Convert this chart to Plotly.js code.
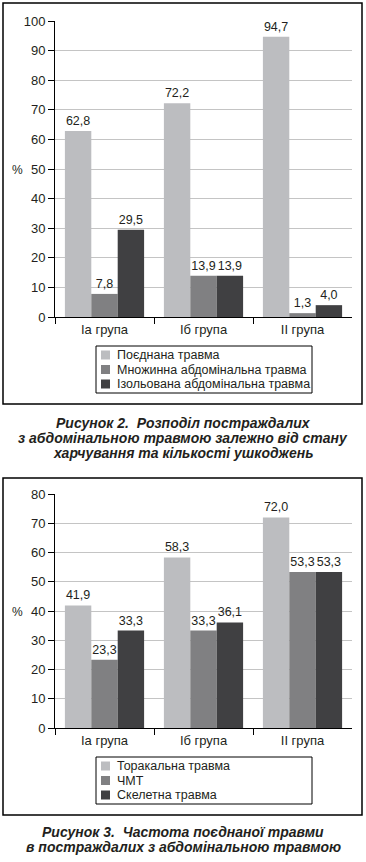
<!DOCTYPE html>
<html>
<head>
<meta charset="utf-8">
<script src="https://cdn.plot.ly/plotly-3.0.1.min.js"></script>
<style>html,body{margin:0;padding:0;background:#fff}#chart{width:366px;height:862px}</style>
</head>
<body>
<div id="chart"></div>
<script>
// ---- Data ----
const groups = ["Іа група", "Іб група", "ІІ група"];

const fig2Names = ["Поєднана травма", "Множинна абдомінальна травма", "Ізольована абдомінальна травма"];
const fig2Combined = [62.8, 72.2, 94.7];
const fig2Multiple = [7.8, 13.9, 1.3];
const fig2Isolated = [29.5, 13.9, 4.0];

const fig3Names = ["Торакальна травма", "ЧМТ", "Скелетна травма"];
const fig3Thoracic = [41.9, 58.3, 72.0];
const fig3TBI = [23.3, 33.3, 53.3];
const fig3Skeletal = [33.3, 36.1, 53.3];

const caption2 = ["Рисунок 2.\u00a0 Розподіл постраждалих", "з абдомінальною травмою залежно від стану", "харчування та кількості ушкоджень"];
const caption3 = ["Рисунок 3.\u00a0 Частота поєднаної травми", "в постраждалих з абдомінальною травмою"];

// ---- Styling ----
const W = 366, H = 862;
const px = x => x / W;
const py = y => 1 - y / H;
const colors = ["#bcbdc0", "#808082", "#404042"];
const FONT = "Liberation Sans, Arial, Helvetica, sans-serif";
const INK = "#231f20";
const fmt = v => v.toFixed(1).replace(".", ",");

function barTrace(vals, name, color, xa, ya) {
  return {
    type: "bar", x: groups, y: vals, name: name,
    marker: {color: color, line: {width: 0}},
    text: vals.map(fmt), textposition: "outside", cliponaxis: false,
    constraintext: "none",
    textfont: {family: FONT, size: 12.5, color: INK},
    xaxis: xa, yaxis: ya, showlegend: false, hoverinfo: "skip"
  };
}

const data = [
  barTrace(fig2Combined, fig2Names[0], colors[0], "x", "y"),
  barTrace(fig2Multiple, fig2Names[1], colors[1], "x", "y"),
  barTrace(fig2Isolated, fig2Names[2], colors[2], "x", "y"),
  barTrace(fig3Thoracic, fig3Names[0], colors[0], "x2", "y2"),
  barTrace(fig3TBI, fig3Names[1], colors[1], "x2", "y2"),
  barTrace(fig3Skeletal, fig3Names[2], colors[2], "x2", "y2")
];

const xCommon = {
  domain: [px(55), px(352)], type: "category", range: [-0.5, 2.5],
  showline: true, linecolor: "#000", linewidth: 1,
  ticks: "outside", tickson: "boundaries", ticklen: 6, tickcolor: "#000", tickwidth: 1,
  tickfont: {family: FONT, size: 13, color: INK}, showgrid: false, fixedrange: true
};
const yCommon = {
  showline: true, linecolor: "#000", linewidth: 1,
  ticks: "outside", ticklen: 6, tickcolor: "#000", tickwidth: 1,
  tickfont: {family: FONT, size: 13, color: INK},
  showgrid: true, gridcolor: "#c4c4c4", gridwidth: 1, zeroline: false, dtick: 10, fixedrange: true
};

const shapes = [];
const annotations = [];

// outer frames
[[3, 404], [478, 815]].forEach(([t, b]) => {
  shapes.push({type: "rect", xref: "paper", yref: "paper", x0: px(3), x1: px(362), y0: py(b), y1: py(t),
    line: {color: "#000", width: 1.5}, fillcolor: "rgba(0,0,0,0)", layer: "below"});
});

function addLegend(names, top) {
  shapes.push({type: "rect", xref: "paper", yref: "paper", x0: px(96), x1: px(312), y0: py(top + 47), y1: py(top),
    line: {color: "#000", width: 1}, fillcolor: "#fff"});
  names.forEach((n, i) => {
    const cy = top + 9 + i * 14.5;
    shapes.push({type: "rect", xref: "paper", yref: "paper", x0: px(101), x1: px(110), y0: py(cy + 4.5), y1: py(cy - 4.5),
      line: {width: 0}, fillcolor: colors[i]});
    annotations.push({xref: "paper", yref: "paper", x: px(115), y: py(cy), xanchor: "left", yanchor: "middle",
      text: n, showarrow: false, font: {family: FONT, size: 12.5, color: INK}});
  });
}
addLegend(fig2Names, 346);
addLegend(fig3Names, 757);

// "%" axis labels
[[170], [612]].forEach(([y]) => {
  annotations.push({xref: "paper", yref: "paper", x: px(17), y: py(y), xanchor: "center", yanchor: "middle",
    text: "%", showarrow: false, font: {family: FONT, size: 12, color: INK}});
});

// captions
function addCaption(lines, firstY, step) {
  lines.forEach((l, i) => {
    annotations.push({xref: "paper", yref: "paper", x: px(183), y: py(firstY + i * step), xanchor: "center", yanchor: "middle",
      text: "<b><i>" + l + "</i></b>", showarrow: false, font: {family: FONT, size: 14, color: INK}});
  });
}
addCaption(caption2, 423, 15);
addCaption(caption3, 832, 15);

const layout = {
  width: W, height: H,
  margin: {l: 0, r: 0, t: 0, b: 0},
  paper_bgcolor: "#fff", plot_bgcolor: "#fff",
  barmode: "group", bargap: 0.2, bargroupgap: 0,
  font: {family: FONT, color: INK},
  xaxis: Object.assign({}, xCommon, {anchor: "y"}),
  yaxis: Object.assign({}, yCommon, {domain: [py(317), py(21)], range: [0, 100], anchor: "x"}),
  xaxis2: Object.assign({}, xCommon, {anchor: "y2"}),
  yaxis2: Object.assign({}, yCommon, {domain: [py(728), py(494)], range: [0, 80], anchor: "x2"}),
  shapes: shapes,
  annotations: annotations,
  showlegend: false
};

Plotly.newPlot("chart", data, layout, {displayModeBar: false, staticPlot: true});
</script>
</body>
</html>
